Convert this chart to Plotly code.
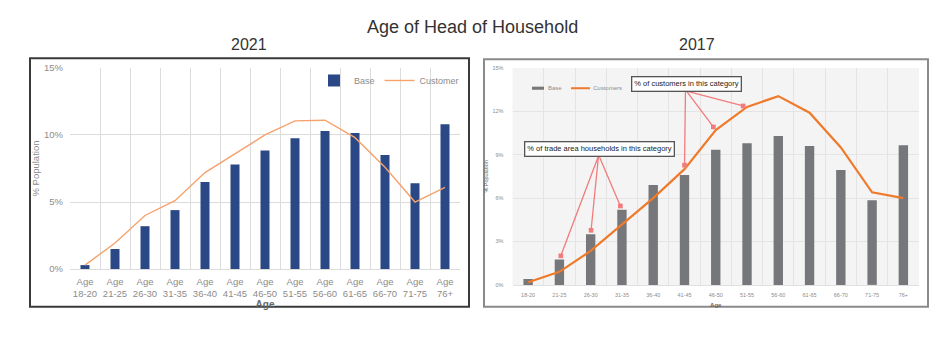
import plotly.graph_objects as go

ages = ["18-20", "21-25", "26-30", "31-35", "36-40", "41-45", "46-50",
        "51-55", "56-60", "61-65", "66-70", "71-75", "76+"]

base_2021 = [0.3, 1.5, 3.2, 4.4, 6.5, 7.8, 8.85, 9.75, 10.3, 10.15, 8.5, 6.4, 10.8]
cust_2021 = [0.3, 1.95, 4.0, 5.1, 7.2, 8.6, 10.0, 11.05, 11.1, 9.8, 7.6, 5.0, 6.1]

base_2017 = [0.4, 1.75, 3.5, 5.2, 6.9, 7.6, 9.35, 9.8, 10.3, 9.6, 7.95, 5.85, 9.65]
cust_2017 = [0.18, 0.9, 2.35, 4.2, 6.0, 8.0, 10.7, 12.3, 13.05, 11.9, 9.5, 6.4, 6.0]

y_ticks_2021 = [0, 5, 10, 15]
y_ticks_2017 = [0, 3, 6, 9, 12, 15]

BASE_2017_COLOR = "#76777A"
CUST_2017_COLOR = "#F07A2C"

W, H = 944, 337
def px_x(p): return p / W
def px_y(p): return (H - p) / H

FONT = "Liberation Sans, Arial"

fig = go.Figure()

# ---- 2021 panel ----
fig.add_trace(go.Bar(x=ages, y=base_2021, name="Base", width=0.3,
                     marker=dict(color="#2A4886", line=dict(width=0)),
                     xaxis="x", yaxis="y"))
fig.add_trace(go.Scatter(x=ages, y=cust_2021, name="Customer", mode="lines",
                         line=dict(color="#F5A26B", width=1.4),
                         xaxis="x", yaxis="y"))

# ---- 2017 panel ----
fig.add_trace(go.Bar(x=ages, y=base_2017, name="Base", width=0.3,
                     marker=dict(color=BASE_2017_COLOR, line=dict(width=0)),
                     xaxis="x2", yaxis="y2", showlegend=False))
fig.add_trace(go.Scatter(x=ages, y=cust_2017, name="Customers", mode="lines",
                         line=dict(color=CUST_2017_COLOR, width=2.2),
                         xaxis="x2", yaxis="y2", showlegend=False))

tickfont_l = dict(family=FONT, size=9.5, color="#8C8C8C")
tickfont_r = dict(family=FONT, size=5.5, color="#8C8C8C")

fig.update_layout(
    width=W, height=H,
    margin=dict(l=0, r=0, t=0, b=0),
    paper_bgcolor="white", plot_bgcolor="white",
    xaxis=dict(domain=[px_x(70), px_x(460)], anchor="y",
               tickvals=ages, ticktext=["Age<br>" + a for a in ages], tickangle=0,
               tickfont=tickfont_l, tickson="boundaries", showgrid=True,
               gridcolor="#DCDCDC", gridwidth=1, ticks="", ticklen=0,
               showline=True, linecolor="#DCDCDC", linewidth=1,
               ticklabelstandoff=3,
               title=dict(text="<b>Age</b>", font=dict(family=FONT, size=10, color="#666666"),
                          standoff=0),
               range=[-0.5, 12.5]),
    yaxis=dict(domain=[px_y(272), px_y(64)], anchor="x",
               range=[0, 15], tickvals=y_ticks_2021,
               ticktext=[f"{v}%" for v in y_ticks_2021],
               tickfont=tickfont_l, gridcolor="#DCDCDC", gridwidth=1,
               showline=False, zeroline=False, ticklabelstandoff=6,
               title=dict(text="% Population", font=dict(family=FONT, size=9.5, color="#8C8C8C"),
                          standoff=2)),
    xaxis2=dict(domain=[px_x(512.5), px_x(919)], anchor="y2",
                tickvals=ages, ticktext=ages, tickangle=0,
                tickfont=tickfont_r, tickson="boundaries", showgrid=True,
                gridcolor="#E4E4E4", gridwidth=1, ticks="", ticklen=0,
                showline=True, linecolor="#E0E0E0", ticklabelstandoff=5,
                title=dict(text="<b>Age</b>", font=dict(family=FONT, size=6, color="#666666"),
                           standoff=5),
                range=[-0.5, 12.5]),
    yaxis2=dict(domain=[px_y(288.3), px_y(64)], anchor="x2",
                range=[0, 15], tickvals=y_ticks_2017,
                ticktext=[f"{v}%" for v in y_ticks_2017],
                tickfont=tickfont_r, gridcolor="#E4E4E4", gridwidth=1,
                showline=False, zeroline=False, ticklabelstandoff=8,
                title=dict(text="% Population", font=dict(family=FONT, size=5.5, color="#666666"),
                           standoff=3)),
    legend=dict(orientation="h", x=px_x(464), y=px_y(77), xanchor="right", yanchor="middle",
                bgcolor="rgba(0,0,0,0)", font=dict(family=FONT, size=9, color="#8C8C8C"),
                itemwidth=30, tracegroupgap=0),
    showlegend=True,
)

# manual legend for the 2017 panel (compact, as in the original chart)
leg_y = 85
shapes = [
    # right panel light background
    dict(type="rect", xref="x2 domain", yref="y2 domain", x0=0, x1=1, y0=0, y1=1,
         fillcolor="#F4F4F4", line=dict(width=0), layer="below"),
    # panel frames
    dict(type="rect", xref="paper", yref="paper", x0=px_x(30), x1=px_x(469),
         y0=px_y(311), y1=px_y(54), line=dict(color="#3A3A3A", width=2)),
    dict(type="rect", xref="paper", yref="paper", x0=px_x(484), x1=px_x(928),
         y0=px_y(311), y1=px_y(55), line=dict(color="#8A8A8A", width=2)),
    # 2017 legend symbols
    dict(type="rect", xref="paper", yref="paper", x0=px_x(532), x1=px_x(544),
         y0=px_y(leg_y + 1.6), y1=px_y(leg_y - 1.6), fillcolor=BASE_2017_COLOR,
         line=dict(width=0)),
    dict(type="line", xref="paper", yref="paper", x0=px_x(571), x1=px_x(590),
         y0=px_y(leg_y), y1=px_y(leg_y), line=dict(color=CUST_2017_COLOR, width=2)),
]
fig.update_layout(shapes=shapes)

center = dict(xanchor="center", yanchor="middle")
annotations = [
    dict(text="Age of Head of Household", xref="paper", yref="paper",
         x=0.5, y=px_y(22), showarrow=False, **center,
         font=dict(family=FONT, size=18, color="#333333")),
    dict(text="2021", xref="paper", yref="paper", x=px_x(249), y=px_y(40),
         showarrow=False, **center, font=dict(family=FONT, size=16, color="#333333")),
    dict(text="2017", xref="paper", yref="paper", x=px_x(697), y=px_y(40),
         showarrow=False, **center, font=dict(family=FONT, size=16, color="#333333")),
    dict(text="Base", xref="paper", yref="paper", x=px_x(546), y=px_y(leg_y),
         xanchor="left", yanchor="middle", showarrow=False,
         font=dict(family=FONT, size=6, color="#8C8C8C")),
    dict(text="Customers", xref="paper", yref="paper", x=px_x(591), y=px_y(leg_y),
         xanchor="left", yanchor="middle", showarrow=False,
         font=dict(family=FONT, size=6, color="#8C8C8C")),
]

arrow_style = dict(showarrow=True, arrowhead=7, arrowsize=0.9, arrowwidth=1.3,
                   arrowcolor="#F27C7C", standoff=4, text="")
# customers arrows: origin ~ (686, 88)
for idx, (ax, ay) in zip([5, 6, 7], [(1, -80), (-30, -40), (-61, -16)]):
    annotations.append(dict(xref="x2", yref="y2", x=ages[idx], y=cust_2017[idx],
                            ax=ax, ay=ay, **arrow_style))
# trade-area arrows: origin ~ (599, 154)
for idx, (ax, ay) in zip([1, 2, 3], [(40, -106), (8, -80), (-23, -54)]):
    annotations.append(dict(xref="x2", yref="y2", x=ages[idx], y=base_2017[idx],
                            ax=ax, ay=ay, **arrow_style))

box_font = dict(family=FONT, size=7.5, color="#222222")
annotations.append(dict(text="% of customers in this category", xref="paper", yref="paper",
                        x=px_x(686), y=px_y(81), showarrow=False, font=box_font, **center,
                        bgcolor="white", bordercolor="#555555", borderwidth=1.3, borderpad=2))
annotations.append(dict(text="% of trade area households in this category", xref="paper", yref="paper",
                        x=px_x(599.5), y=px_y(148), showarrow=False, font=box_font, **center,
                        bgcolor="white", bordercolor="#555555", borderwidth=1.3, borderpad=2))

fig.update_layout(annotations=annotations)

fig.write_html("out.html")
